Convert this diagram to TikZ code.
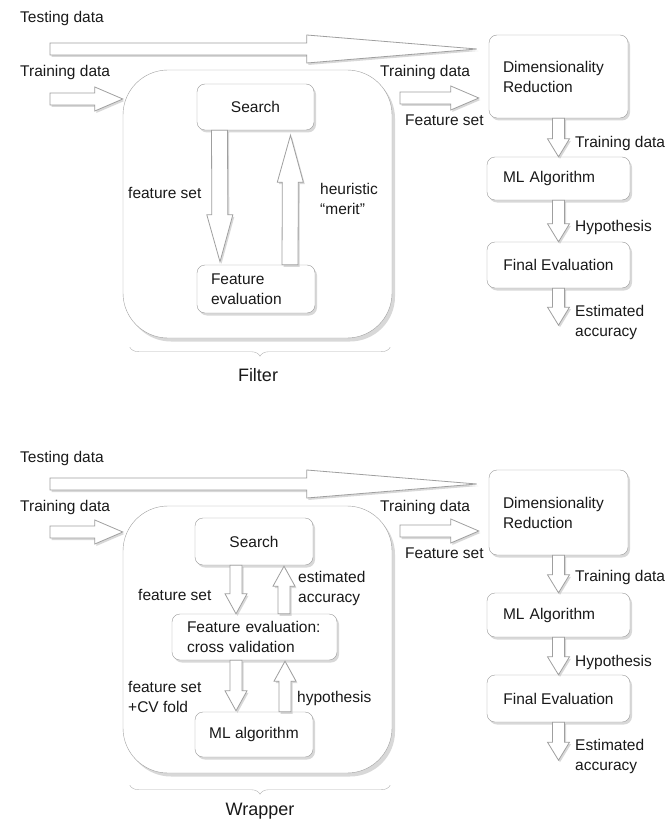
\documentclass[tikz,border=0pt]{standalone}
\usepackage{fontspec}
\setmainfont{Liberation Sans}
\usetikzlibrary{calc, shadows, decorations.pathreplacing}

\newcommand{\lblfont}{\fontsize{15.5}{20}\selectfont}
% block arrow, hollow, from #2 to #3
\newcommand{\fashaft}{6pt}
\newcommand{\fawing}{11pt}
\newcommand{\fahead}{18pt}
\newcommand{\fatarrow}[3][]{%
  \begingroup #1%
  \coordinate (fa-s) at #2;
  \coordinate (fa-e) at #3;
  \coordinate (fa-b) at ($(fa-e)!\fahead!(fa-s)$);
  \draw[fat] ($(fa-s)!\fashaft!90:(fa-e)$) -- ($(fa-b)!\fashaft!-90:(fa-s)$)
    -- ($(fa-b)!\fawing!-90:(fa-s)$) -- (fa-e) -- ($(fa-b)!\fawing!90:(fa-s)$)
    -- ($(fa-b)!\fashaft!90:(fa-s)$) -- ($(fa-s)!\fashaft!-90:(fa-e)$) -- cycle;
  \endgroup}

\begin{document}
\begin{tikzpicture}[x=1pt, y=-1pt,
  box/.style={draw=gray!80, fill=white, rounded corners=8pt, inner sep=0pt, font=\lblfont, text=black!90,
    drop shadow={shadow xshift=2pt, shadow yshift=-2.5pt, fill=gray!60}},
  bigbox/.style={draw=gray!75, fill=white, rounded corners=45pt,
    drop shadow={shadow xshift=3pt, shadow yshift=-3.5pt, fill=gray!60}},
  lbl/.style={font=\lblfont, text=black!90, inner sep=0pt, anchor=west, align=left},
  fat/.style={draw=gray!75, fill=white, line width=0.8pt,
    drop shadow={shadow xshift=1.5pt, shadow yshift=-2pt, fill=gray!60}},
  brc/.style={draw=gray!60, decorate, decoration={brace, amplitude=9pt}},
  caption/.style={font=\fontsize{18}{20}\selectfont, text=black!90, inner sep=0pt}]
  \useasboundingbox (0,0) rectangle (669,821);

  % ---- Filter ----
  \node[lbl] (testF) at (20,18) {Testing data};
  \node[lbl] (trainF) at (20,72) {Training data};
  \node[bigbox, minimum width=269pt, minimum height=268pt] (filter) at (257.5,204) {};
  \node[box, minimum width=117pt, minimum height=46pt] (searchF) at (255.5,107) {Search};
  \node[box, minimum width=118pt, minimum height=48pt, text width=90pt, align=left] (fevalF) at (256,289) {Feature\\evaluation};
  \node[lbl] (fsetF) at (128,193) {feature set};
  \node[lbl] (meritF) at (320,199) {heuristic\\``merit''};
  \fatarrow[\def\fashaft{8pt}\def\fawing{13pt}\def\fahead{47pt}]{($(searchF.south)+(-36,0)$)}{($(fevalF.north)+(-36,-3)$)}
  \fatarrow[\def\fashaft{8pt}\def\fawing{13pt}\def\fahead{47pt}]{($(fevalF.north)+(34,0)$)}{($(searchF.south)+(35,5)$)}
  \draw[brc] ($(filter.south east)+(-2,9)$) -- ($(filter.south west)+(7,9)$);
  \node[caption] (capF) at (258,375) {Filter};

  \node[box, minimum width=139pt, minimum height=83pt, text width=111pt, align=left] (drF) at (558.5,76.5) {Dimensionality\\Reduction};
  \node[box, minimum width=143pt, minimum height=43pt, text width=111pt, align=left] (mlF) at (558.5,178.5) {ML Algorithm};
  \node[box, minimum width=143pt, minimum height=46pt] (finF) at (558.5,265) {Final Evaluation};
  \node[lbl] (trainRF) at (380,72) {Training data};
  \node[lbl] (featRF) at (405,120) {Feature set};
  \node[lbl] (l1F) at (575,143) {Training data};
  \node[lbl] (l2F) at (575,227) {Hypothesis};
  \node[lbl] (l3F) at (575,322) {Estimated\\accuracy};

  \coordinate (testSF) at (50,49);
  \coordinate (trainSF) at (50,99);
  \coordinate (fsSF) at (400,98);
  \coordinate (accF) at ($(finF.south)+(0,37)$);
  \fatarrow[\def\fawing{14pt}\def\fahead{170pt}]{(testSF)}{($(drF.west |- testSF)+(-12,0)$)}
  \fatarrow[\def\fawing{12pt}\def\fahead{28pt}]{(trainSF)}{(filter.west |- trainSF)}
  \fatarrow[\def\fawing{12pt}\def\fahead{28pt}]{(fsSF)}{($(drF.west |- fsSF)+(-10,0)$)}
  \fatarrow{(drF.south)}{(mlF.north)}
  \fatarrow{(mlF.south)}{(finF.north)}
  \fatarrow{(finF.south)}{(accF)}

  % ---- Wrapper ----
  \node[lbl] (testW) at (20,458) {Testing data};
  \node[lbl] (trainW) at (20,507) {Training data};
  \node[bigbox, minimum width=269pt, minimum height=267pt] (wrapper) at (257.5,639.5) {};
  \node[box, minimum width=118pt, minimum height=47pt] (searchW) at (254,541.5) {Search};
  \node[box, minimum width=165pt, minimum height=46pt, text width=135pt, align=left] (fevalW) at (254.5,637) {Feature evaluation:\\cross validation};
  \node[box, minimum width=118pt, minimum height=45pt] (mlalgW) at (254,734.5) {ML algorithm};
  \node[lbl] (fsetW) at (138,595) {feature set};
  \node[lbl] (estW) at (298,588) {estimated\\accuracy};
  \node[lbl] (foldW) at (128,697) {feature set\\+CV fold};
  \node[lbl] (hypW) at (297,698) {hypothesis};
  \fatarrow[\def\fahead{20pt}]{($(searchW.south)+(-18,0)$)}{($(fevalW.north)+(-18.5,0)$)}
  \fatarrow[\def\fahead{20pt}]{($(fevalW.north)+(29.5,0)$)}{($(searchW.south)+(30,1)$)}
  \fatarrow[\def\fahead{20pt}]{($(fevalW.south)+(-18.5,0)$)}{($(mlalgW.north)+(-18,-1)$)}
  \fatarrow[\def\fahead{20pt}]{($(mlalgW.north)+(31,0)$)}{($(fevalW.south)+(30.5,1)$)}
  \draw[brc] ($(wrapper.south east)+(-2,12)$) -- ($(wrapper.south west)+(7,12)$);
  \node[caption] (capW) at (260,811) {Wrapper};

  \node[box, minimum width=139pt, minimum height=85pt, text width=111pt, align=left] (drW) at (558.5,512.5) {Dimensionality\\Reduction};
  \node[box, minimum width=143pt, minimum height=44pt, text width=111pt, align=left] (mlW) at (558.5,615) {ML Algorithm};
  \node[box, minimum width=143pt, minimum height=47pt] (finW) at (558.5,698.5) {Final Evaluation};
  \node[lbl] (trainRW) at (380,507) {Training data};
  \node[lbl] (featRW) at (405,553) {Feature set};
  \node[lbl] (l1W) at (575,577) {Training data};
  \node[lbl] (l2W) at (575,662) {Hypothesis};
  \node[lbl] (l3W) at (575,756) {Estimated\\accuracy};

  \coordinate (testSW) at (50,484);
  \coordinate (trainSW) at (50,532);
  \coordinate (fsSW) at (400,531);
  \coordinate (accW) at ($(finW.south)+(0,38)$);
  \fatarrow[\def\fawing{14pt}\def\fahead{170pt}]{(testSW)}{($(drW.west |- testSW)+(-12,0)$)}
  \fatarrow[\def\fawing{12pt}\def\fahead{28pt}]{(trainSW)}{(wrapper.west |- trainSW)}
  \fatarrow[\def\fawing{12pt}\def\fahead{28pt}]{(fsSW)}{($(drW.west |- fsSW)+(-10,0)$)}
  \fatarrow{(drW.south)}{(mlW.north)}
  \fatarrow{(mlW.south)}{(finW.north)}
  \fatarrow{(finW.south)}{(accW)}
\end{tikzpicture}
\end{document}
